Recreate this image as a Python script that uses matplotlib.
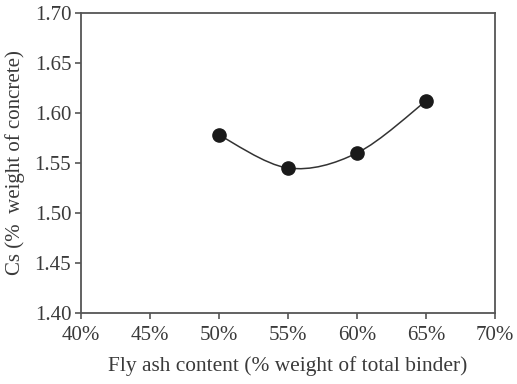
import matplotlib
matplotlib.use("Agg")
import matplotlib.pyplot as plt
from matplotlib.path import Path
from matplotlib.patches import PathPatch
from matplotlib.ticker import FuncFormatter

fly_ash = [50, 55, 60, 65]
cs = [1.578, 1.545, 1.560, 1.612]
x_ticks = [40, 45, 50, 55, 60, 65, 70]
y_ticks = [1.40, 1.45, 1.50, 1.55, 1.60, 1.65, 1.70]

plt.rcParams['font.family'] = ['Liberation Serif', 'DejaVu Serif']
axis_col = '#555555'
text_col = '#3a3a3a'
fs = 15

fig = plt.figure(figsize=(5.17, 3.84), dpi=100)
ax = fig.add_axes([81 / 517, 1 - 313 / 384, 414 / 517, 300 / 384])

# smoothed line (Excel-like bezier through the points)
verts = [(fly_ash[0], cs[0])]
codes = [Path.MOVETO]
n = len(fly_ash)
for i in range(n - 1):
    p0 = (fly_ash[max(i - 1, 0)], cs[max(i - 1, 0)])
    p1 = (fly_ash[i], cs[i])
    p2 = (fly_ash[i + 1], cs[i + 1])
    p3 = (fly_ash[min(i + 2, n - 1)], cs[min(i + 2, n - 1)])
    c1 = (p1[0] + (p2[0] - p0[0]) / 6, p1[1] + (p2[1] - p0[1]) / 6)
    c2 = (p2[0] - (p3[0] - p1[0]) / 6, p2[1] - (p3[1] - p1[1]) / 6)
    verts += [c1, c2, p2]
    codes += [Path.CURVE4] * 3
ax.add_patch(PathPatch(Path(verts, codes), facecolor='none',
                       edgecolor='#333333', lw=1.1, zorder=2))
ax.plot(fly_ash, cs, 'o', color='#1a1a1a', ms=9.5, zorder=3)

ax.set_xlim(40, 70)
ax.set_ylim(1.40, 1.70)
ax.set_xticks(x_ticks)
ax.set_yticks(y_ticks)
ax.xaxis.set_major_formatter(FuncFormatter(lambda v, p: f"{v:.0f}%"))
ax.yaxis.set_major_formatter(FuncFormatter(lambda v, p: f"{v:.2f}"))
for s in ax.spines.values():
    s.set_color(axis_col)
    s.set_linewidth(1.3)
ax.tick_params(direction='out', length=4, width=1.2, color=axis_col,
               labelsize=fs, labelcolor=text_col, pad=3)
ax.tick_params(axis='x', pad=5)

ax.set_xlabel('Fly ash content (% weight of total binder)', fontsize=15.4,
              color=text_col, labelpad=8)
ax.set_ylabel('Cs (%  weight of concrete)', fontsize=fs, color=text_col,
              labelpad=7)

fig.savefig('out.png', dpi=100)
